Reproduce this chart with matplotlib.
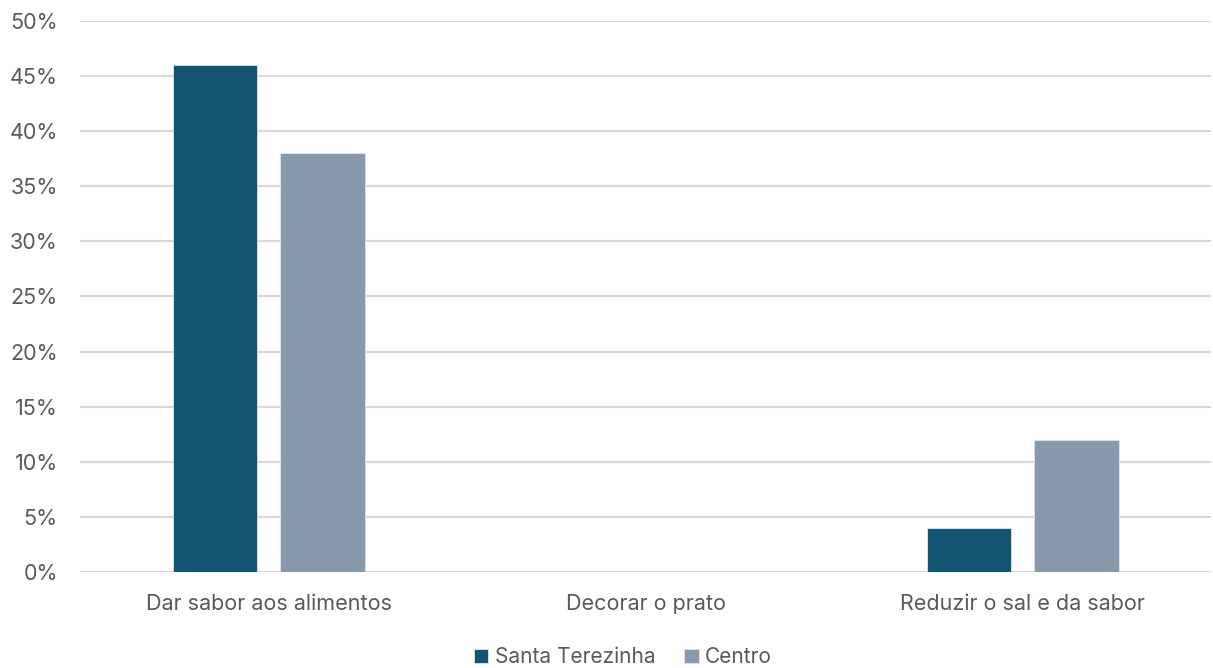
import numpy as np
import matplotlib.pyplot as plt
from matplotlib.ticker import PercentFormatter

categories = ["Dar sabor aos alimentos", "Decorar o prato", "Reduzir o sal e da sabor"]
santa_terezinha = [46, 0, 4]
centro = [38, 0, 12]
series_names = ["Santa Terezinha", "Centro"]
colors = ["#135570", "#8799AA"]

plt.rcParams['font.family'] = ['Inter', 'DejaVu Sans']

fig = plt.figure(figsize=(12.13, 6.68), dpi=100)
ax = fig.add_axes([0.066, 0.1437, 0.9324, 0.8249])

x = np.arange(len(categories))
w = 0.225
ax.bar(x - 0.142, santa_terezinha, w, color=colors[0], edgecolor="#dde6ee", linewidth=0.6,
       label=series_names[0], zorder=3)
ax.bar(x + 0.142, centro, w, color=colors[1], edgecolor="#dde6ee", linewidth=0.6,
       label=series_names[1], zorder=3)

ax.set_xlim(-0.5, 2.5)
ax.set_ylim(0, 50)
ax.set_yticks(np.arange(0, 51, 5))
ax.yaxis.set_major_formatter(PercentFormatter(decimals=0))
ax.grid(axis="y", color="#d9d9d9", linewidth=1.5, zorder=0)
for s in ax.spines.values():
    s.set_visible(False)
ax.tick_params(length=0, labelsize=15.5, labelcolor="#595959")
ax.tick_params(axis="x", pad=16)
ax.tick_params(axis="y", pad=16)
ax.set_xticks(x)
ax.set_xticklabels(categories)

ax.legend(loc="upper center", bbox_to_anchor=(0.48, -0.11), ncol=2, frameon=False,
          fontsize=15, labelcolor="#595959", handlelength=0.7, handleheight=0.7,
          handletextpad=0.3, columnspacing=1.4, borderaxespad=0.3)

fig.savefig("out.png", dpi=100)
